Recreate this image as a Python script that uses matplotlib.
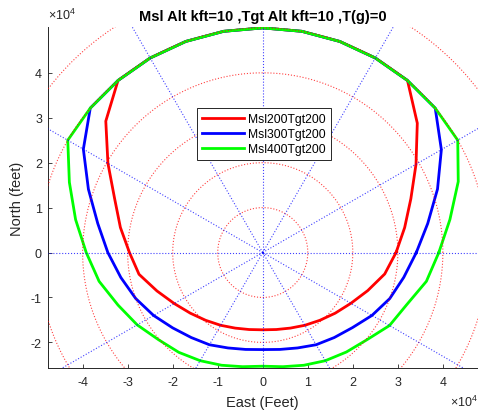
import numpy as np
import matplotlib
matplotlib.use('Agg')
import matplotlib.pyplot as plt

plt.rcParams['font.family'] = ['Liberation Sans', 'DejaVu Sans']
plt.rcParams['mathtext.fontset'] = 'custom'
plt.rcParams['mathtext.rm'] = 'Liberation Sans'

# bearing angles (deg, counter-clockwise from East) and ranges (x 1e4 ft)
angles = list(range(0, 361, 10))
rng_msl200 = [2.96, 3.20, 3.50, 3.93, 4.48, 5.0, 5.0, 5.0, 5.0, 5.0,
              5.0, 5.0, 5.0, 5.0, 4.55, 3.97, 3.50, 3.21, 2.96, 2.79,
              2.50, 2.27, 2.10, 1.97, 1.87, 1.79, 1.74, 1.72, 1.74, 1.79,
              1.87, 1.97, 2.10, 2.26, 2.48, 2.75, 2.96]
rng_msl300 = [3.41, 3.72, 4.13, 4.58, 5.0, 5.0, 5.0, 5.0, 5.0, 5.0,
              5.0, 5.0, 5.0, 5.0, 5.0, 4.60, 4.12, 3.72, 3.44, 3.20,
              3.00, 2.80, 2.61, 2.47, 2.37, 2.26, 2.19, 2.16, 2.19, 2.26,
              2.37, 2.47, 2.60, 2.80, 3.00, 3.18, 3.41]
rng_msl400 = [3.91, 4.22, 4.62, 5.0, 5.0, 5.0, 5.0, 5.0, 5.0, 5.0,
              5.0, 5.0, 5.0, 5.0, 5.0, 5.0, 4.57, 4.22, 3.92, 3.69,
              3.42, 3.22, 3.02, 2.90, 2.78, 2.67, 2.58, 2.53, 2.58, 2.67,
              2.78, 2.89, 3.02, 3.25, 3.40, 3.69, 3.91]
series = [
    ('Msl200Tgt200', rng_msl200, 'red'),
    ('Msl300Tgt200', rng_msl300, 'blue'),
    ('Msl400Tgt200', rng_msl400, 'lime'),
]

grid_radii = [1, 2, 3, 4, 5, 6]
spoke_angles = list(range(0, 360, 30))
x_ticks = [-4, -3, -2, -1, 0, 1, 2, 3, 4]
y_ticks = [-2, -1, 0, 1, 2, 3, 4]
scale = 1e4

fig = plt.figure(figsize=(4.78, 4.14), dpi=100)
ax = fig.add_axes([47.5 / 478, 45 / 414, 430.5 / 478, 341 / 414])

th = np.radians(angles)
for label, r, color in series:
    r = np.array(r) * scale
    ax.plot(r * np.cos(th), r * np.sin(th), color=color, lw=2, label=label, zorder=2)

# polar grid overlay
t = np.linspace(0, 2 * np.pi, 361)
for rad in grid_radii:
    ax.plot(rad * scale * np.cos(t), rad * scale * np.sin(t), ':', color='red',
            lw=0.8, alpha=0.75, zorder=3)
for a in spoke_angles:
    ar = np.radians(a)
    ax.plot([0, 6 * scale * np.cos(ar)], [0, 6 * scale * np.sin(ar)], ':',
            color='blue', lw=0.8, alpha=0.75, zorder=3)

ax.set_xlim(-4.78 * scale, 4.78 * scale)
ax.set_ylim(-2.57 * scale, 5.02 * scale)

ax.set_xticks([v * scale for v in x_ticks])
ax.set_xticklabels([str(v) for v in x_ticks])
ax.set_yticks([v * scale for v in y_ticks])
ax.set_yticklabels([str(v) for v in y_ticks])
ax.tick_params(direction='in', length=3, width=0.6, colors='#262626',
               labelsize=9)
ax.tick_params(axis='x', pad=6)
ax.tick_params(axis='y', pad=4)

for side in ['top', 'right']:
    ax.spines[side].set_visible(False)
for side in ['left', 'bottom']:
    ax.spines[side].set_color('#262626')
    ax.spines[side].set_linewidth(0.7)

ax.set_xlabel('East (Feet)', fontsize=10.5, color='#262626', labelpad=5)
ax.set_ylabel('North (feet)', fontsize=10.5, color='#262626', labelpad=5)
ax.set_title('Msl Alt kft=10 ,Tgt Alt kft=10 ,T(g)=0', fontsize=10.5,
             fontweight='bold', pad=5)

ax.text(0.0, 1.015, r'$\times10^{4}$', transform=ax.transAxes, fontsize=9,
        color='#262626', ha='left', va='bottom')
ax.text(1.0, -0.075, r'$\times10^{4}$', transform=ax.transAxes, fontsize=9,
        color='#262626', ha='right', va='top')

leg = ax.legend(loc='upper left', bbox_to_anchor=(0.348, 0.7616), borderaxespad=0,
                fontsize=8.7, handlelength=3.5, handletextpad=0.3,
                labelspacing=0.25, borderpad=0.4, fancybox=False, framealpha=1)
leg.get_frame().set_edgecolor('#262626')
leg.get_frame().set_linewidth(0.7)
leg.set_zorder(5)

fig.savefig('out.png', dpi=100)
